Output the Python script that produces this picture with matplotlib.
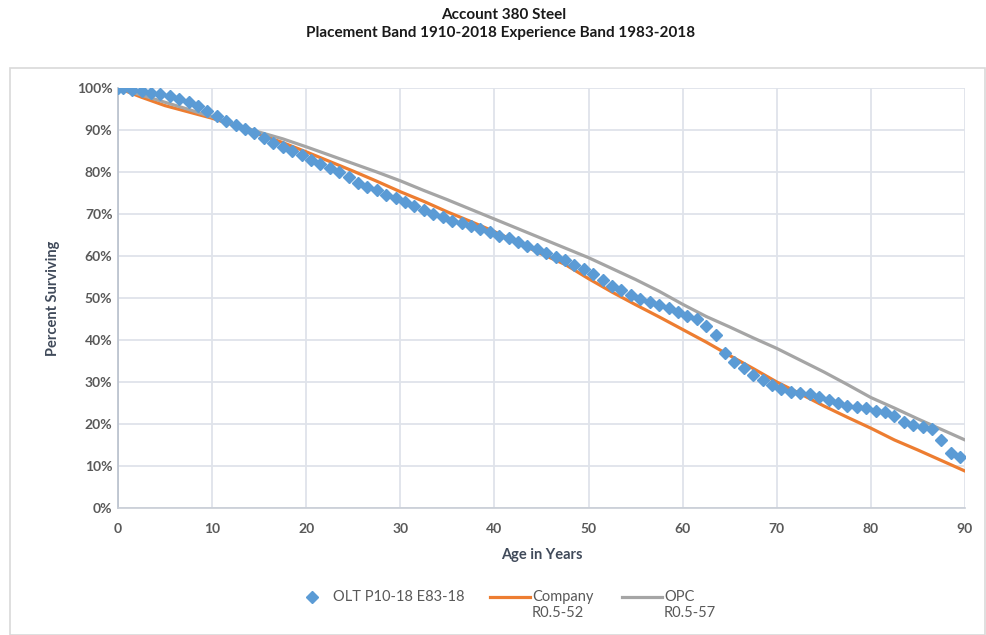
import numpy as np
import matplotlib
matplotlib.use("Agg")
import matplotlib.pyplot as plt
from matplotlib.patches import Rectangle
from matplotlib.lines import Line2D
from matplotlib.ticker import PercentFormatter

plt.rcParams['font.family'] = ['Lato', 'DejaVu Sans']

# --- dati ---
olt_age = [0] + [i + 0.5 for i in range(90)]
olt_pct = [100, 100, 99.6, 99.3, 98.9, 98.5, 98.0, 97.3, 96.6, 95.7, 94.6,
           93.4, 92.2, 91.2, 90.3, 89.2, 88.0, 87.0, 86.0, 85.1, 84.1,
           82.9, 81.8, 80.9, 80.0, 78.8, 77.5, 76.5, 75.6, 74.6, 73.7,
           72.9, 71.9, 71.0, 70.1, 69.3, 68.4, 67.8, 67.1, 66.4, 65.6,
           64.8, 64.2, 63.3, 62.5, 61.7, 60.7, 59.8, 59.0, 57.9, 56.8,
           55.6, 54.3, 52.8, 51.9, 50.8, 49.7, 49.0, 48.3, 47.6, 46.6,
           45.8, 45.0, 43.3, 41.2, 36.8, 34.8, 33.3, 31.7, 30.5, 29.3,
           28.4, 27.7, 27.4, 27.1, 26.4, 25.7, 25.0, 24.3, 24.0, 23.7,
           23.2, 22.9, 22.0, 20.5, 19.8, 19.3, 18.7, 16.3, 13.1, 12.1]

curve_age = [0, 2.5, 5, 7.5, 10, 12.5, 15, 17.5, 20, 22.5, 25, 27.5, 30,
             32.5, 35, 37.5, 40, 42.5, 45, 47.5, 50, 52.5, 55, 57.5, 60,
             62.5, 65, 67.5, 70, 72.5, 75, 77.5, 80, 82.5, 85, 87.5, 90]
company_pct = [100, 97.8, 95.8, 94.3, 92.8, 91.0, 89.0, 87.0, 84.8, 82.5,
               80.2, 77.8, 75.3, 73.0, 70.5, 68.2, 65.8, 63.2, 60.5, 58.0,
               54.6, 51.4, 48.4, 45.5, 42.5, 39.5, 36.3, 33.2, 30.0, 27.2,
               24.3, 21.6, 19.0, 16.2, 13.8, 11.3, 8.8]
opc_pct = [100, 98.3, 96.6, 94.9, 93.1, 91.3, 89.5, 87.9, 86.0, 84.0,
           82.0, 80.0, 77.9, 75.6, 73.4, 71.1, 68.8, 66.5, 64.2, 61.9,
           59.6, 57.0, 54.4, 51.6, 48.5, 45.6, 43.1, 40.5, 38.0, 35.2,
           32.4, 29.4, 26.3, 23.8, 21.2, 18.7, 16.2]

x_ticks = list(range(0, 91, 10))
y_ticks = list(range(0, 101, 10))

col_olt = '#5b9bd5'
col_company = '#ed7d31'
col_opc = '#a5a5a5'

# --- grafico ---
W, H = 987, 635
fig = plt.figure(figsize=(W / 100, H / 100), dpi=100)
ax = fig.add_axes([118 / W, 1 - 508 / H, 847 / W, 420 / H])

# cornice dell'area grafico
fig.patches.append(Rectangle((10 / W, 0), 975 / W, 1 - 68 / H,
                             transform=fig.transFigure, fill=False,
                             edgecolor='#d9d9d9', linewidth=1.2))

ax.plot(curve_age, company_pct, color=col_company, linewidth=2.3, zorder=3)
ax.plot(curve_age, opc_pct, color=col_opc, linewidth=2.3, zorder=3)
ax.plot(olt_age, olt_pct, linestyle='none', marker='D', markersize=6.3,
        color=col_olt, zorder=4)

ax.set_xlim(0, 90)
ax.set_ylim(0, 100)
ax.set_xticks(x_ticks)
ax.set_yticks(y_ticks)
ax.yaxis.set_major_formatter(PercentFormatter(decimals=0))
ax.tick_params(length=0, labelsize=10, labelcolor='#595959')
ax.tick_params(axis='x', pad=11)
ax.tick_params(axis='y', pad=4)
for lbl in ax.get_xticklabels() + ax.get_yticklabels():
    lbl.set_fontweight('bold')

ax.grid(True, color='#dfe3ea', linewidth=1.3)
ax.set_axisbelow(True)
for side in ['top', 'right']:
    ax.spines[side].set_visible(False)
ax.spines['left'].set_color('#b8c0cc')
ax.spines['bottom'].set_color('#c8cdd6')
ax.spines['left'].set_linewidth(1.2)
ax.spines['bottom'].set_linewidth(1.2)

ax.set_xlabel('Age in Years', fontsize=10.5, fontweight='bold',
              color='#404a5a', labelpad=9)
ax.set_ylabel('Percent Surviving', fontsize=10.5, fontweight='bold',
              color='#404a5a', labelpad=12)

fig.text(0.51, 1 - 15 / H, 'Account 380 Steel', ha='center', va='center',
         fontsize=11, fontweight='bold', color='#1a1a1a')
fig.text(0.507, 1 - 33 / H,
         'Placement Band 1910-2018 Experience Band 1983-2018',
         ha='center', va='center', fontsize=11, fontweight='bold',
         color='#1a1a1a')

# legenda (manuale, per allineare le linee alla prima riga del testo)
def fx(px):
    return px / W

def fy(py):
    return 1 - py / H

leg_kw = dict(fontsize=10.5, color='#595959', va='center', ha='left')
fig.add_artist(Line2D([fx(312)], [fy(597)], marker='D', markersize=6.3,
                      color=col_olt, linestyle='none'))
fig.text(fx(333), fy(597), 'OLT P10-18 E83-18', **leg_kw)
fig.add_artist(Line2D([fx(490), fx(530)], [fy(597), fy(597)],
                      color=col_company, linewidth=2.3))
fig.text(fx(532), fy(597), 'Company', **leg_kw)
fig.text(fx(532), fy(613), 'R0.5-52', **leg_kw)
fig.add_artist(Line2D([fx(622), fx(662)], [fy(597), fy(597)],
                      color=col_opc, linewidth=2.3))
fig.text(fx(664), fy(597), 'OPC', **leg_kw)
fig.text(fx(664), fy(613), 'R0.5-57', **leg_kw)

plt.savefig('out.png', dpi=100)
